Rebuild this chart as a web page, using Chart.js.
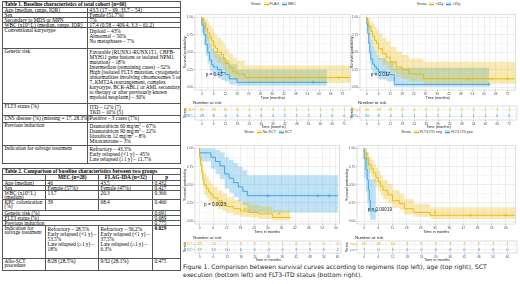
<!DOCTYPE html>
<html>
<head>
<meta charset="utf-8">
<script src="https://cdn.jsdelivr.net/npm/chart.js@4.4.1/dist/chart.umd.min.js"></script>
<style>
  body { margin: 0; width: 520px; height: 284px; background: #fff; position: relative; overflow: hidden; }
  .tbl { position: absolute; border-collapse: collapse; table-layout: fixed; font-family: "Liberation Serif", serif; font-size: 5.3px; color: #000; }
  .tbl td { border: 1px solid #555; padding: 0 1px 0 1.5px; line-height: 4px; vertical-align: top; white-space: nowrap; }
  .tbl td.m { line-height: 5px; padding-top: 0.5px; }
  .tbl .hd { font-weight: bold; }
  .tbl .c { text-align: center; }
  .tbl sup { font-size: 3.5px; line-height: 0; vertical-align: 1.6px; }
  .leg { position: absolute; font-family: "Liberation Sans", sans-serif; font-size: 3.6px; color: #333; white-space: nowrap; line-height: 5px; text-align: center; }
  .key { display: inline-block; width: 5px; height: 4px; vertical-align: middle; margin: 0 1px 0 2px; position: relative; }
  .key:after { content: ""; position: absolute; left: 0; right: 0; top: 1.5px; height: 1px; }
  .ky { background: rgba(231,184,0,0.3); }
  .ky:after { background: #E7B800; }
  .kb { background: rgba(46,159,223,0.3); }
  .kb:after { background: #2E9FDF; }
  .nar { position: absolute; font-family: "Liberation Sans", sans-serif; font-size: 4.4px; color: #222; white-space: nowrap; }
  .cap { position: absolute; left: 183px; top: 263px; font-family: "DejaVu Sans", sans-serif; font-size: 6.1px; line-height: 8px; color: #1a1a1a; white-space: nowrap; }
  canvas { position: absolute; }
</style>
</head>
<body>

<table class="tbl" style="left:2px;top:1px;width:178px">
  <colgroup><col style="width:85px"><col style="width:93px"></colgroup>
  <tr style="height:6px"><td colspan="2" class="hd">Table 1. Baseline characteristics of total cohort (n=60)</td></tr>
  <tr style="height:5px"><td>Age (median, range, IQR)</td><td>43.5 (17 – 69, 33.7 – 54)</td></tr>
  <tr style="height:5px"><td>Sex</td><td>Female (51.7%)</td></tr>
  <tr style="height:5px"><td>Secondary to MDS or MPN</td><td>7%</td></tr>
  <tr style="height:5px"><td>WBC (x10<sup>9</sup>/L) (median, range, IQR)</td><td>17.4 (0.58 – 409.4, 3.3 – 61.2)</td></tr>
  <tr style="height:21px"><td>Conventional karyotype</td><td class="m">Diploid – 43%<br>Abnormal – 50%<br>No metaphases – 7%</td></tr>
  <tr style="height:55px"><td>Genetic risk</td><td class="m">Favorable (RUNX1-RUNX1T1, CBFB-<br>MYH11 gene fusions or isolated NPM1<br>mutation) – 18%<br>Intermediate (remaining cases) – 52%<br>High (isolated FLT3 mutation, cytogenetic<br>abnormalities involving chromosomes 5 or<br>7, KMT2A rearrangement, complex<br>karyotype, BCR-ABL1 or AML secondary<br>to therapy or after previously known<br>myeloid neoplasm) – 30%</td></tr>
  <tr style="height:12px"><td>FLT3 status (%)</td><td class="m">ITD – 12% (7)<br>TKD – 10% (5)</td></tr>
  <tr style="height:7px"><td>CNS disease (%) (missing = 17, 28.3%)</td><td>Positive – 3 cases (7%)</td></tr>
  <tr style="height:23px"><td>Previous induction</td><td class="m">Daunorubicin 60 mg/m<sup>2</sup> – 67%<br>Daunorubicin 90 mg/m<sup>2</sup> – 22%<br>Idarubicin 12 mg/m<sup>2</sup> – 8%<br>Mitoxantrone – 3%</td></tr>
  <tr style="height:18px"><td>Indication for salvage treatment</td><td class="m">Refractory – 43.3%<br>Early relapsed (&lt;1 y) – 45%<br>Late relapsed (≥1 y) – 11.7%</td></tr>
</table>

<table class="tbl" style="left:2px;top:168px;width:178px">
  <colgroup><col style="width:43px"><col style="width:53px"><col style="width:54px"><col style="width:28px"></colgroup>
  <tr style="height:6px"><td colspan="4" class="hd">Table 2. Comparison of baseline characteristics between two groups</td></tr>
  <tr style="height:6px"><td></td><td class="hd c">MEC (n=28)</td><td class="hd c">FLAG-IDA (n=32)</td><td class="hd c">p</td></tr>
  <tr style="height:5px"><td>Age (median)</td><td>46</td><td>43.5</td><td>0.432</td></tr>
  <tr style="height:5px"><td>Sex</td><td>Female (57%)</td><td>Female (47%)</td><td>0.427</td></tr>
  <tr style="height:9px"><td>WBC (x10<sup>9</sup>/L)<br>(median)</td><td>13.7</td><td>20.3</td><td>0.366</td></tr>
  <tr style="height:11px"><td>KPC colonization<br>(%)</td><td>39</td><td>68.4</td><td>0.466</td></tr>
  <tr style="height:5px"><td colspan="3">Genetic risk (%)</td><td>0.691</td></tr>
  <tr style="height:5px"><td colspan="3">FLT3 status (%)</td><td>0.689</td></tr>
  <tr style="height:5px"><td colspan="3">Previous induction</td><td>0.775</td></tr>
  <tr style="height:33px"><td>Indication for<br>salvage treatment</td><td class="m">Refractory – 28.5%<br>Early relapsed (&lt;1 y) –<br>53.5%<br>Late relapsed (≥1 y) –<br>18%</td><td class="m">Refractory – 56.2%<br>Early relapsed (&lt;1 y) –<br>37.5%<br>Late relapsed (≥1 y) –<br>6.3%</td><td class="hd">0.029</td></tr>
  <tr style="height:12px"><td>Allo-SCT<br>procedure</td><td>8/28 (28.5%)</td><td>9/32 (28.1%)</td><td>0.475</td></tr>
</table>

<div class="leg" style="left:195px;top:2px;width:157px">Strata <i class="key ky"></i>FLAG <i class="key kb"></i>MEC</div>
<div class="leg" style="left:360px;top:2px;width:157px">Strata <i class="key ky"></i>&lt;45y <i class="key kb"></i>&gt;45y</div>
<div class="leg" style="left:195px;top:130px;width:146px">Strata <i class="key ky"></i>No-SCT <i class="key kb"></i>SCT</div>
<div class="leg" style="left:357px;top:130px;width:160px">Strata <i class="key ky"></i>FLT3-ITD neg <i class="key kb"></i>FLT3-ITD pos</div>

<canvas id="kmReg" width="172" height="90" style="left:183px;top:10px"></canvas>
<canvas id="kmAge" width="170" height="90" style="left:350px;top:10px"></canvas>
<canvas id="kmSct" width="161" height="93" style="left:183px;top:141px"></canvas>
<canvas id="kmFlt" width="175" height="93" style="left:345px;top:141px"></canvas>

<div class="nar" style="left:193px;top:100px">Number at risk</div>
<div class="nar" style="left:358px;top:100px">Number at risk</div>
<div class="nar" style="left:193px;top:235px">Number at risk</div>
<div class="nar" style="left:355px;top:235px">Number at risk</div>

<canvas id="riskReg" width="172" height="24" style="left:183px;top:105px"></canvas>
<canvas id="riskAge" width="170" height="24" style="left:350px;top:105px"></canvas>
<canvas id="riskSct" width="161" height="22" style="left:183px;top:240px"></canvas>
<canvas id="riskFlt" width="175" height="22" style="left:345px;top:240px"></canvas>

<div class="cap">Figure 1. Comparison between survival curves according to regimens (top left), age (top right), SCT<br>execution (bottom left) and FLT3-ITD status (bottom right).</div>

<script>
// tick positions in months
const timeTicksTop = [0, 6, 12, 18, 24, 30, 36, 42, 48, 54, 60, 66, 72];
const timeTicksBottom = [0, 6, 12, 18, 24, 30, 36, 42, 48, 54, 60];
const survTicks = [0, 0.25, 0.5, 0.75, 1];

// top left: regimen
const flagTime  = [0, 1, 2, 3, 4, 5, 6, 7, 8, 10, 11, 12, 14, 16, 18, 22, 26, 76];
const flagSurv  = [1, 0.97, 0.91, 0.84, 0.78, 0.72, 0.66, 0.59, 0.56, 0.50, 0.47, 0.41, 0.34, 0.28, 0.22, 0.19, 0.14, 0.14];
const flagUpper = [1, 1, 1, 0.97, 0.93, 0.88, 0.84, 0.78, 0.75, 0.70, 0.67, 0.62, 0.55, 0.48, 0.42, 0.38, 0.31, 0.31];
const flagLower = [1, 0.91, 0.80, 0.71, 0.64, 0.57, 0.50, 0.43, 0.40, 0.34, 0.31, 0.26, 0.20, 0.15, 0.11, 0.09, 0.06, 0.06];
const flagCensTime = [33, 45, 70];
const flagCensSurv = [0.14, 0.14, 0.14];
const mecTime  = [0, 1, 2, 3, 4, 5, 6, 8, 10, 12, 14, 18, 40, 64];
const mecSurv  = [1, 0.89, 0.75, 0.61, 0.50, 0.39, 0.32, 0.29, 0.25, 0.21, 0.18, 0.12, 0.07, 0.07];
const mecUpper = [1, 1, 0.94, 0.83, 0.73, 0.63, 0.56, 0.52, 0.47, 0.43, 0.39, 0.33, 0.25, 0.25];
const mecLower = [1, 0.78, 0.60, 0.45, 0.34, 0.24, 0.18, 0.16, 0.13, 0.10, 0.08, 0.04, 0.02, 0.02];
const mecCensTime = [57];
const mecCensSurv = [0.07];
const flagRisk = [32, 19, 11, 5, 4, 3, 1, 1, 1, 1, 1, 1, 1];
const mecRisk  = [28, 8, 6, 5, 5, 5, 3, 2, 2, 2, 1, 0, 0];

// top right: age
const youngTime  = [0, 1, 2, 3, 4, 5, 6, 8, 10, 12, 15, 18, 21.5, 29, 40, 76];
const youngSurv  = [1, 0.93, 0.87, 0.80, 0.73, 0.67, 0.63, 0.55, 0.48, 0.43, 0.36, 0.29, 0.25, 0.19, 0.12, 0.12];
const youngUpper = [1, 1, 0.99, 0.95, 0.90, 0.86, 0.83, 0.77, 0.71, 0.66, 0.58, 0.51, 0.46, 0.41, 0.36, 0.36];
const youngLower = [1, 0.84, 0.75, 0.66, 0.58, 0.51, 0.47, 0.39, 0.32, 0.27, 0.21, 0.15, 0.12, 0.08, 0.05, 0.05];
const youngCensTime = [52, 64, 72];
const youngCensSurv = [0.12, 0.12, 0.12];
const oldTime  = [0, 0.5, 1, 1.5, 2, 3, 4, 5, 6, 10, 14, 17, 62.5];
const oldSurv  = [1, 0.90, 0.77, 0.63, 0.50, 0.40, 0.33, 0.29, 0.26, 0.22, 0.18, 0.04, 0.04];
const oldUpper = [1, 1, 0.97, 0.88, 0.78, 0.67, 0.58, 0.52, 0.47, 0.42, 0.37, 0.28, 0.28];
const oldLower = [1, 0.80, 0.62, 0.47, 0.34, 0.25, 0.19, 0.16, 0.14, 0.11, 0.08, 0.005, 0.005];
const oldCensTime = [62.5];
const oldCensSurv = [0.04];
const youngRisk = [30, 19, 11, 9, 6, 5, 3, 2, 2, 2, 1, 1, 1];
const oldRisk   = [30, 8, 3, 1, 1, 1, 1, 1, 1, 1, 1, 0, 0];

// bottom left: SCT
const noSctTime  = [0, 0.5, 1, 1.5, 2, 3, 4, 5, 6, 8, 10, 12, 15, 18, 22, 26, 32, 40];
const noSctSurv  = [1, 0.88, 0.77, 0.67, 0.58, 0.50, 0.45, 0.40, 0.36, 0.32, 0.28, 0.24, 0.20, 0.17, 0.14, 0.12, 0.10, 0.05];
const noSctUpper = [1, 0.96, 0.89, 0.81, 0.74, 0.66, 0.61, 0.56, 0.51, 0.47, 0.42, 0.38, 0.33, 0.29, 0.26, 0.23, 0.20, 0.15];
const noSctLower = [1, 0.79, 0.65, 0.55, 0.45, 0.37, 0.32, 0.27, 0.24, 0.20, 0.17, 0.14, 0.11, 0.08, 0.06, 0.05, 0.03, 0.01];
const noSctCensTime = [20, 35];
const noSctCensSurv = [0.17, 0.10];
const sctTime  = [0, 5, 7, 9, 11, 13, 15, 17, 19, 21, 24, 61];
const sctSurv  = [1, 0.94, 0.88, 0.82, 0.76, 0.65, 0.59, 0.53, 0.47, 0.41, 0.35, 0.35];
const sctUpper = [1, 1, 1, 0.98, 0.95, 0.88, 0.84, 0.80, 0.75, 0.70, 0.63, 0.63];
const sctLower = [1, 0.82, 0.72, 0.65, 0.58, 0.45, 0.39, 0.33, 0.27, 0.22, 0.12, 0.12];
const sctCensTime = [30, 52, 57];
const sctCensSurv = [0.35, 0.35, 0.35];
const noSctRisk = [43, 14, 7, 4, 3, 2, 1, 0, 0, 0, 0];
const sctRisk   = [17, 14, 10, 6, 6, 4, 3, 3, 3, 3, 2];

// bottom right: FLT3-ITD
const negTime  = [0, 1, 2, 3, 4, 5, 6, 7, 8, 10, 12, 15, 17, 21, 28, 39, 64];
const negSurv  = [1, 0.94, 0.86, 0.78, 0.72, 0.66, 0.60, 0.54, 0.48, 0.42, 0.36, 0.28, 0.24, 0.17, 0.12, 0.08, 0.08];
const negUpper = [1, 1, 0.95, 0.89, 0.84, 0.79, 0.74, 0.69, 0.63, 0.57, 0.51, 0.43, 0.38, 0.30, 0.24, 0.19, 0.19];
const negLower = [1, 0.87, 0.76, 0.67, 0.60, 0.53, 0.47, 0.41, 0.35, 0.30, 0.25, 0.18, 0.15, 0.09, 0.06, 0.03, 0.03];
const negCensTime = [30, 45, 60];
const negCensSurv = [0.12, 0.08, 0.08];
const posTime  = [0, 0.8, 1.3, 1.8, 2.2, 2.6, 3.4, 5];
const posSurv  = [1, 0.86, 0.71, 0.57, 0.43, 0.29, 0.14, 0.14];
const posUpper = [1, 1, 1, 0.95, 0.85, 0.72, 0.58, 0.58];
const posLower = [1, 0.60, 0.40, 0.25, 0.15, 0.08, 0.02, 0.02];
const posCensTime = [5];
const posCensSurv = [0.14];
const negRisk = [50, 26, 10, 9, 8, 5, 3, 2, 2, 2, 1];
const posRisk = [7, 0, 0, 0, 0, 0, 0, 0, 0, 0, 0];

// colours (survminer defaults)
const yellow = '#E7B800', blue = '#2E9FDF';
const yellowBand = 'rgba(231,184,0,0.3)', blueBand = 'rgba(46,159,223,0.3)';

function pts(xs, ys) {
  return xs.map((x, i) => ({ x: x, y: ys[i] }));
}

// major ticks plus the minor ones halfway between them
function withMinor(ticks, max) {
  const out = [];
  const step = ticks[1] - ticks[0];
  ticks.forEach(t => { out.push(t); if (t + step / 2 <= max) out.push(t + step / 2); });
  return out;
}

// light grey border round the panel
const frame = {
  id: 'frame',
  afterDraw(chart) {
    const a = chart.chartArea, c = chart.ctx;
    c.save();
    c.strokeStyle = '#c8c8c8';
    c.lineWidth = 0.6;
    c.strokeRect(a.left, a.top, a.right - a.left, a.bottom - a.top);
    c.restore();
  }
};

const pLabel = {
  id: 'pLabel',
  afterDatasetsDraw(chart, args, opts) {
    if (!opts.text) return;
    const c = chart.ctx;
    c.save();
    c.font = '4.6px "Liberation Sans"';
    c.fillStyle = '#222';
    c.textBaseline = 'middle';
    c.fillText(opts.text, chart.scales.x.getPixelForValue(opts.x), chart.scales.y.getPixelForValue(opts.y));
    c.restore();
  }
};

// numbers at risk written at the points of each row
const riskNums = {
  id: 'riskNums',
  afterDatasetsDraw(chart) {
    const c = chart.ctx;
    c.save();
    c.font = '4.2px "Liberation Sans"';
    c.textAlign = 'center';
    c.textBaseline = 'middle';
    chart.data.datasets.forEach((ds, i) => {
      c.fillStyle = ds.textColor;
      chart.getDatasetMeta(i).data.forEach((p, j) => c.fillText(ds.counts[j], p.x, p.y));
    });
    c.restore();
  }
};

const smallFont = { size: 3.2, family: 'Liberation Sans' };
const titleFont = { size: 3.8, family: 'Liberation Sans' };

function xAxis(cfg, title, height) {
  const all = withMinor(cfg.ticks, cfg.xMax);
  return {
    type: 'linear', min: cfg.xMin, max: cfg.xMax,
    afterBuildTicks: a => { a.ticks = all.map(v => ({ value: v })); },
    afterFit: s => { s.height = height; s.paddingLeft = 0; s.paddingRight = 0; },
    ticks: { autoSkip: false, maxRotation: 0, padding: 0.5, font: smallFont, color: '#555',
             callback: v => cfg.ticks.includes(v) ? v : '' },
    grid: { color: c => (c.tick && cfg.ticks.includes(c.tick.value)) ? '#e2e2e2' : '#f2f2f2',
            tickColor: c => (c.tick && cfg.ticks.includes(c.tick.value)) ? '#999' : 'rgba(0,0,0,0)',
            lineWidth: 0.6, tickLength: 1.5 },
    border: { display: false },
    title: { display: true, text: title, font: titleFont, color: '#222', padding: 0 }
  };
}

function kmChart(id, cfg) {
  const datasets = [];
  cfg.groups.forEach(g => {
    datasets.push({ data: pts(g.time, g.upper), stepped: 'after', fill: '+1', backgroundColor: g.band,
                    borderColor: 'rgba(0,0,0,0)', borderWidth: 0, pointRadius: 0, order: 3 });
    datasets.push({ data: pts(g.time, g.lower), stepped: 'after', fill: false,
                    borderColor: 'rgba(0,0,0,0)', borderWidth: 0, pointRadius: 0, order: 3 });
  });
  cfg.groups.forEach(g => {
    datasets.push({ data: pts(g.time, g.surv), stepped: 'after', fill: false, borderColor: g.color,
                    borderWidth: 0.9, pointRadius: 0, order: 1 });
    datasets.push({ data: pts(g.censTime, g.censSurv), showLine: false, pointStyle: 'cross',
                    pointRadius: 1.6, borderColor: g.color, borderWidth: 0.6, order: 0 });
  });
  const allY = withMinor(survTicks, 1);
  new Chart(document.getElementById(id), {
    type: 'line',
    data: { datasets: datasets },
    options: {
      animation: false, responsive: false, devicePixelRatio: 1,
      layout: { padding: { top: 3, right: 3, left: 0, bottom: 0 } },
      plugins: { legend: { display: false }, tooltip: { enabled: false },
                 pLabel: { text: cfg.pText, x: cfg.pX, y: cfg.pY } },
      scales: {
        x: xAxis(cfg, cfg.xTitle, 10),
        y: {
          min: -0.04, max: 1.04,
          afterBuildTicks: a => { a.ticks = allY.map(v => ({ value: v })); },
          afterFit: s => { s.width = cfg.yW; s.paddingTop = 0; s.paddingBottom = 0; },
          ticks: { padding: 0.5, font: smallFont, color: '#555',
                   callback: v => survTicks.includes(v) ? v.toFixed(2) : '' },
          grid: { color: c => (c.tick && survTicks.includes(c.tick.value)) ? '#e2e2e2' : '#f2f2f2',
                  tickColor: c => (c.tick && survTicks.includes(c.tick.value)) ? '#999' : 'rgba(0,0,0,0)',
                  lineWidth: 0.6, tickLength: 1.5 },
          border: { display: false },
          title: { display: true, text: 'Survival probability', font: titleFont, color: '#222', padding: 0 }
        }
      }
    },
    plugins: [frame, pLabel]
  });
}

function riskChart(id, cfg) {
  const n = cfg.groups.length;
  const datasets = cfg.groups.map((g, i) => ({
    data: cfg.ticks.map(t => ({ x: t, y: n - 1 - i })),
    counts: g.risk, textColor: g.color, pointRadius: 0
  }));
  new Chart(document.getElementById(id), {
    type: 'scatter',
    data: { datasets: datasets },
    options: {
      animation: false, responsive: false, devicePixelRatio: 1,
      layout: { padding: { top: 1, right: 3, left: 0, bottom: 0 } },
      plugins: { legend: { display: false }, tooltip: { enabled: false } },
      scales: {
        x: xAxis(cfg, cfg.xTitle, cfg.xH),
        y: {
          min: -0.6, max: 1.6,
          afterBuildTicks: a => { a.ticks = [{ value: 0 }, { value: 1 }]; },
          afterFit: s => { s.width = cfg.yW; s.paddingTop = 0; s.paddingBottom = 0; },
          ticks: { padding: 0.5, font: smallFont,
                   color: c => cfg.groups[n - 1 - c.tick.value].color,
                   callback: v => cfg.groups[n - 1 - v].name },
          grid: { color: '#e6e6e6', lineWidth: 0.6, tickLength: 1.5, tickColor: '#999' },
          border: { display: false },
          title: { display: true, text: 'Strata', font: titleFont, color: '#222', padding: 0 }
        }
      }
    },
    plugins: [frame, riskNums]
  });
}

// top left
kmChart('kmReg', {
  xMin: -3.5, xMax: 76, ticks: timeTicksTop, yW: 12, xTitle: 'Time (months)',
  pText: 'p = 0.43', pX: 2, pY: 0.18,
  groups: [
    { color: yellow, band: yellowBand, time: flagTime, surv: flagSurv, upper: flagUpper, lower: flagLower, censTime: flagCensTime, censSurv: flagCensSurv },
    { color: blue, band: blueBand, time: mecTime, surv: mecSurv, upper: mecUpper, lower: mecLower, censTime: mecCensTime, censSurv: mecCensSurv }
  ]
});
riskChart('riskReg', {
  xMin: -3.5, xMax: 76, ticks: timeTicksTop, yW: 12, xH: 9, xTitle: 'Time (months)',
  groups: [ { name: 'FLAG', color: yellow, risk: flagRisk }, { name: 'MEC', color: blue, risk: mecRisk } ]
});

// top right
kmChart('kmAge', {
  xMin: -3.5, xMax: 76, ticks: timeTicksTop, yW: 10, xTitle: 'Time (months)',
  pText: 'p = 0.017', pX: 2, pY: 0.18,
  groups: [
    { color: yellow, band: yellowBand, time: youngTime, surv: youngSurv, upper: youngUpper, lower: youngLower, censTime: youngCensTime, censSurv: youngCensSurv },
    { color: blue, band: blueBand, time: oldTime, surv: oldSurv, upper: oldUpper, lower: oldLower, censTime: oldCensTime, censSurv: oldCensSurv }
  ]
});
riskChart('riskAge', {
  xMin: -3.5, xMax: 76, ticks: timeTicksTop, yW: 10, xH: 9, xTitle: 'Time (months)',
  groups: [ { name: '<45y', color: yellow, risk: youngRisk }, { name: '>45y', color: blue, risk: oldRisk } ]
});

// bottom left
kmChart('kmSct', {
  xMin: -2, xMax: 61.5, ticks: timeTicksBottom, yW: 12, xTitle: 'Time in months',
  pText: 'p = 0.0023', pX: 2, pY: 0.22,
  groups: [
    { color: yellow, band: yellowBand, time: noSctTime, surv: noSctSurv, upper: noSctUpper, lower: noSctLower, censTime: noSctCensTime, censSurv: noSctCensSurv },
    { color: blue, band: blueBand, time: sctTime, surv: sctSurv, upper: sctUpper, lower: sctLower, censTime: sctCensTime, censSurv: sctCensSurv }
  ]
});
riskChart('riskSct', {
  xMin: -2, xMax: 61.5, ticks: timeTicksBottom, yW: 12, xH: 9, xTitle: 'Time in months',
  groups: [ { name: 'No-SCT', color: yellow, risk: noSctRisk }, { name: 'SCT', color: blue, risk: sctRisk } ]
});

// bottom right
kmChart('kmFlt', {
  xMin: -3, xMax: 64, ticks: timeTicksBottom, yW: 12, xTitle: 'Time in months',
  pText: 'p = 0.00019', pX: 1.5, pY: 0.16,
  groups: [
    { color: yellow, band: yellowBand, time: negTime, surv: negSurv, upper: negUpper, lower: negLower, censTime: negCensTime, censSurv: negCensSurv },
    { color: blue, band: blueBand, time: posTime, surv: posSurv, upper: posUpper, lower: posLower, censTime: posCensTime, censSurv: posCensSurv }
  ]
});
riskChart('riskFlt', {
  xMin: -3, xMax: 64, ticks: timeTicksBottom, yW: 12, xH: 9, xTitle: 'Time in months',
  groups: [ { name: 'neg', color: yellow, risk: negRisk }, { name: 'pos', color: blue, risk: posRisk } ]
});
</script>
</body>
</html>
